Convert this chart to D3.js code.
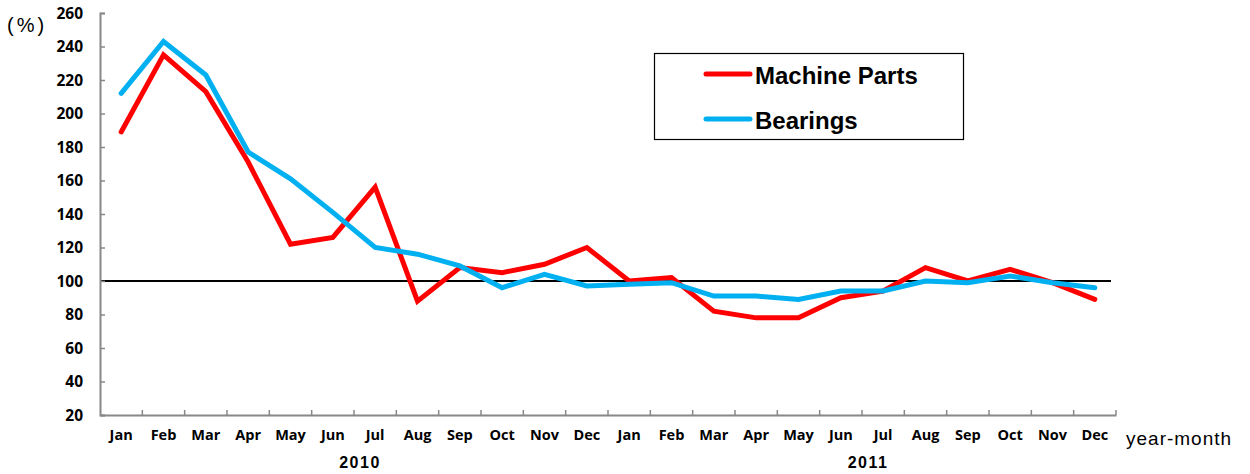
<!DOCTYPE html>
<html><head><meta charset="utf-8">
<script src="https://cdn.jsdelivr.net/npm/d3@7"></script>
<style>body{margin:0;background:#fff}svg{display:block}</style>
</head><body>
<svg id="c" width="1250" height="474"></svg>
<script>
const months = ["Jan","Feb","Mar","Apr","May","Jun","Jul","Aug","Sep","Oct","Nov","Dec",
                "Jan","Feb","Mar","Apr","May","Jun","Jul","Aug","Sep","Oct","Nov","Dec"];
const years = ["2010","2011"];
const machineParts = [189,235,213,171,122,126,156,88,108,105,110,120,100,102,82,78,78,90,94,108,100,107,99,89];
const bearings = [212,243,223,177,161,141,120,116,109,96,104,97,98,99,91,91,89,94,94,100,99,103,99,96];
const yTicks = [20,40,60,80,100,120,140,160,180,200,220,240,260];
const seriesNames = ["Machine Parts","Bearings"];
const colors = ["#ff0000","#00b0f0"];

const svg = d3.select("#c");
const L = 100, R = 1116, T = 13, B = 415;
const idx = d3.range(months.length);
const x = d3.scaleBand().domain(idx).range([L, R]);
const y = d3.scaleLinear().domain([20, 260]).range([B, T]);

// reference line at 100
svg.append("line").attr("x1", L).attr("x2", 1111).attr("y1", y(100)).attr("y2", y(100))
  .attr("stroke", "#000").attr("stroke-width", 2);

// series
const line = d3.line().x((d, i) => x(i) + x.bandwidth() / 2).y(d => y(d));
[machineParts, bearings].forEach((s, k) => {
  svg.append("path").datum(s).attr("d", line).attr("fill", "none")
    .attr("stroke", colors[k]).attr("stroke-width", 5)
    .attr("stroke-linejoin", "miter").attr("stroke-linecap", "round");
});

// y axis
const ya = svg.append("g").attr("transform", `translate(${L},0)`)
  .call(d3.axisLeft(y).tickValues(yTicks).tickSize(-5).tickPadding(17));
ya.select(".domain").attr("stroke", "#888").attr("stroke-width", 2);
ya.selectAll(".tick line").attr("stroke", "#888").attr("stroke-width", 1.5);
ya.selectAll("text").attr("font-family", "'Open Sans', sans-serif").attr("font-weight", "bold")
  .attr("font-size", 15.5).attr("fill", "#000").attr("dy", "0.35em");

// x axis
const xa = svg.append("g").attr("transform", `translate(0,${B})`)
  .call(d3.axisBottom(x).tickFormat(i => months[i]).tickSize(0).tickPadding(15));
xa.select(".domain").attr("stroke", "#888").attr("stroke-width", 2);
xa.selectAll("text").attr("font-family", "'Open Sans', sans-serif").attr("font-weight", "bold")
  .attr("font-size", 14.5).attr("fill", "#000");
// boundary ticks pointing up
svg.append("g").selectAll("line").data(d3.range(1, months.length + 1)).join("line")
  .attr("x1", i => x(i - 1) + x.bandwidth()).attr("x2", i => x(i - 1) + x.bandwidth())
  .attr("y1", B).attr("y2", B - 5).attr("stroke", "#888").attr("stroke-width", 1.5);

// year labels
years.forEach((yr, k) => {
  svg.append("text").attr("x", x(6 + 12 * k) + 6).attr("y", 468).attr("text-anchor", "middle")
    .attr("font-family", "'Liberation Sans', Arial, sans-serif").attr("font-weight", "bold")
    .attr("font-size", 16).attr("letter-spacing", 1.5).text(yr);
});

svg.append("text").attr("x", 1126).attr("y", 445)
  .attr("font-family", "'Liberation Sans', Arial, sans-serif").attr("font-size", 19)
  .attr("letter-spacing", 1).text("year-month");
svg.append("text").attr("x", 7).attr("y", 32)
  .attr("font-family", "'Liberation Sans', Arial, sans-serif").attr("font-size", 20)
  .attr("letter-spacing", 3).text("(%)");

// legend
const lg = svg.append("g");
lg.append("rect").attr("x", 654.5).attr("y", 53.5).attr("width", 309).attr("height", 86)
  .attr("fill", "#fff").attr("stroke", "#000").attr("stroke-width", 1.2);
seriesNames.forEach((n, k) => {
  const yy = 74 + k * 45;
  lg.append("line").attr("x1", 706).attr("x2", 750).attr("y1", yy).attr("y2", yy)
    .attr("stroke", colors[k]).attr("stroke-width", 5).attr("stroke-linecap", "round");
  lg.append("text").attr("x", 755).attr("y", yy + 10)
    .attr("font-family", "'Liberation Sans', Arial, sans-serif").attr("font-weight", "bold")
    .attr("font-size", 24).text(n);
});
</script>
</body></html>
